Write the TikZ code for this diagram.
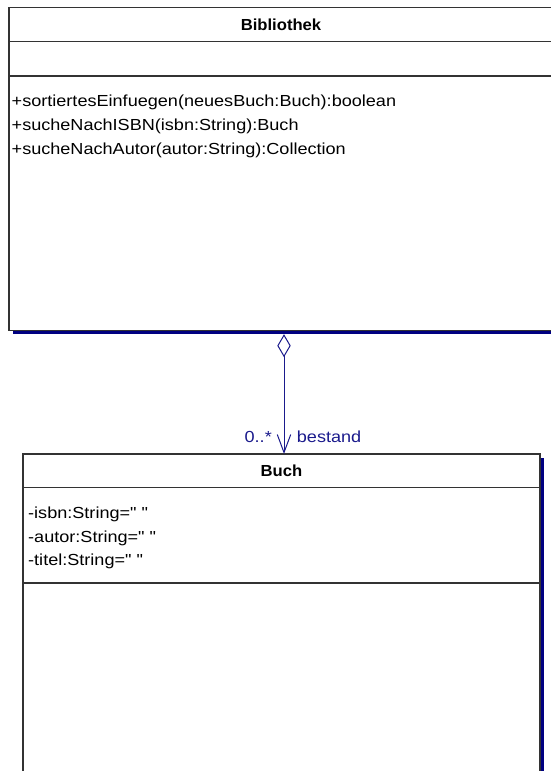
\documentclass[tikz,border=0pt]{standalone}
\usepackage{fontspec}
\setmainfont{Liberation Sans}
\newfontfamily\umlfont[FakeStretch=1.13]{Liberation Sans}
\newfontfamily\umlbold[FakeStretch=1.04]{Liberation Sans}
\usetikzlibrary{arrows.meta,shadows}
\definecolor{navyblue}{RGB}{0,0,128}
\definecolor{linkblue}{RGB}{26,26,140}
\begin{document}
\begin{tikzpicture}[x=1pt,y=-1pt,
  classbox/.style={draw=black!80,line width=1.2pt,fill=white,inner sep=0pt,outer sep=0pt,anchor=north west,
     drop shadow={shadow xshift=3.5pt,shadow yshift=-3.5pt,fill=navyblue,draw=none,opacity=1}},
  sepline/.style={draw=black!80,line width=1.2pt},
  member/.style={font=\umlfont\fontsize{16}{18}\selectfont,anchor=base west,inner sep=0pt},
  classname/.style={font=\umlbold\bfseries\fontsize{16}{18}\selectfont,anchor=base,inner sep=0pt},
  assoc/.style={draw=linkblue,line width=1pt},
  rolelabel/.style={font=\umlfont\fontsize{16}{18}\selectfont,text=linkblue,inner sep=0pt},
]
\useasboundingbox (0,0) rectangle (551,771);
\clip (0,0) rectangle (551,771);

% Bibliothek
\node[classbox,minimum width=544pt,minimum height=323.4pt] (bib) at (9,7.3) {};
\draw[sepline] (bib.west |- 0,41.7) -- (bib.east |- 0,41.7);
\draw[sepline] (bib.west |- 0,76) -- (bib.east |- 0,76);
\node[classname] (bibname) at (bib.north |- 0,30) {Bibliothek};
\node[member] (m1) at (11.5,106) {+sortiertesEinfuegen(neuesBuch:Buch):boolean};
\node[member] (m2) at (11.5,130) {+sucheNachISBN(isbn:String):Buch};
\node[member] (m3) at (11.5,154) {+sucheNachAutor(autor:String):Collection};

% Buch
\node[classbox,minimum width=517pt,minimum height=340pt] (buch) at (23,454) {};
\draw[sepline] (buch.west |- 0,487.7) -- (buch.east |- 0,487.7);
\draw[sepline] (buch.west |- 0,583) -- (buch.east |- 0,583);
\node[classname] (buchname) at (buch.north |- 0,476.5) {Buch};
\node[member] (a1) at (28,518.5) {-isbn:String=" "};
\node[member] (a2) at (28,542) {-autor:String=" "};
\node[member] (a3) at (28,565.5) {-titel:String=" "};

% association
\coordinate (src) at ([xshift=3pt,yshift=-3.5pt]bib.south);
\coordinate (dst) at ([xshift=2.5pt]buch.north);
\draw[assoc,{Diamond[open,length=23pt,width=13.4pt]}-{Straight Barb[length=18pt,width=13.4pt]}] (src) -- (dst);
\node[rolelabel,anchor=base east] (mult) at ([xshift=-12pt,yshift=12pt]dst) {0..*};
\node[rolelabel,anchor=base west] (role) at ([xshift=12.7pt,yshift=12pt]dst) {bestand};
\end{tikzpicture}
\end{document}
